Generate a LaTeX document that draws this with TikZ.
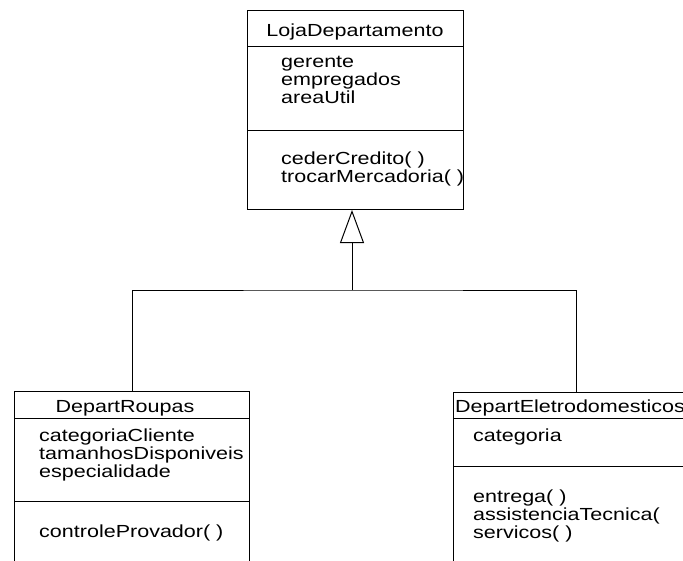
\documentclass[tikz,border=0pt]{standalone}
\usepackage{fontspec}
\setmainfont[FakeStretch=1.23]{Liberation Sans}
\usetikzlibrary{arrows.meta,calc}
\tikzset{
  classbox/.style={draw=black, line width=1pt, fill=white, anchor=north west,
        inner sep=0pt},
  sepline/.style={draw=black, line width=1pt},
  classname/.style={font=\fontsize{17.5}{18}\selectfont, anchor=base, inner sep=0pt},
  member/.style={font=\fontsize{17.5}{18}\selectfont, anchor=base west, inner sep=0pt},
  gen/.style={-{Triangle[open, length=33pt, width=24pt]}, line width=1pt},
  link/.style={line width=1pt}
}
\begin{document}
\begin{tikzpicture}[x=1pt, y=-1pt]
\useasboundingbox (0,0) rectangle (683,560);
\clip (0,0) rectangle (683,560);

% superclass
\node[classbox, minimum width=216pt, minimum height=199pt] (loja) at (247,10) {};
\draw[sepline] ([yshift=-36pt]loja.north west) -- ([yshift=-36pt]loja.north east);
\draw[sepline] ([yshift=-120pt]loja.north west) -- ([yshift=-120pt]loja.north east);
\node[classname] (lojaname) at (355,36) {LojaDepartamento};
\foreach \txt [count=\i] in {gerente, empregados, areaUtil}
  \node[member] (lojaattr\i) at (281,49+18*\i) {\txt};
\foreach \txt [count=\i] in {cederCredito( ), trocarMercadoria( )}
  \node[member] (lojaop\i) at (281,146+18*\i) {\txt};

% subclasses
\node[classbox, minimum width=235pt, minimum height=190pt] (roupas) at (14,391) {};
\draw[sepline] ([yshift=-27pt]roupas.north west) -- ([yshift=-27pt]roupas.north east);
\draw[sepline] ([yshift=-110pt]roupas.north west) -- ([yshift=-110pt]roupas.north east);
\node[classname] (roupasname) at (125,412) {DepartRoupas};
\foreach \txt [count=\i] in {categoriaCliente, tamanhosDisponiveis, especialidade}
  \node[member] (roupasattr\i) at (39,423+18*\i) {\txt};
\node[member] (roupasop1) at (39,537) {controleProvador( )};

\node[classbox, minimum width=245pt, minimum height=190pt] (eletro) at (453,392) {};
\draw[sepline] ([yshift=-26pt]eletro.north west) -- ([yshift=-26pt]eletro.north east);
\draw[sepline] ([yshift=-74pt]eletro.north west) -- ([yshift=-74pt]eletro.north east);
\node[member] (eletroname) at (455,412) {DepartEletrodomesticos};
\node[member] (eletroattr1) at (473,441) {categoria};
\foreach \txt [count=\i] in {entrega( ), assistenciaTecnica(, servicos( )}
  \node[member] (eletroop\i) at (473,484+18*\i) {\txt};

% generalization
\coordinate (split) at (352,290);
\draw[gen] (split) -- (split |- loja.south);
\draw[link] (roupas.north) |- (split) -| (eletro.north);
\end{tikzpicture}
\end{document}
